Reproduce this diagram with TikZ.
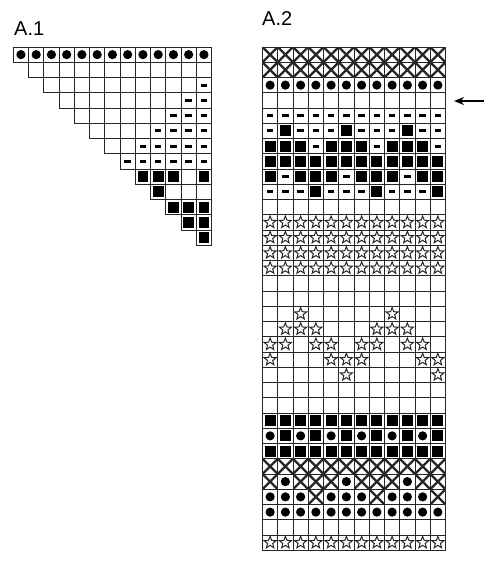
\documentclass[tikz,border=0pt]{standalone}
\usepackage{fontspec}
\setmainfont{Liberation Sans}
\usetikzlibrary{arrows.meta}

\tikzset{
	cell/.style={rectangle,draw=black!85,line width=1pt,minimum size=15.25pt,inner sep=0pt,outer sep=0pt},
	ke/.style={cell},
	kd/.style={cell,path picture={\fill (path picture bounding box.center) circle (4.6pt);}},
	km/.style={cell,path picture={\fill (path picture bounding box.center) ++(-3.3pt,-1.5pt) rectangle ++(6.6pt,3pt);}},
	ks/.style={cell,path picture={\fill (path picture bounding box.center) ++(-5.4pt,-5.4pt) rectangle ++(10.8pt,10.8pt);}},
	kx/.style={cell,path picture={
		\draw[line width=2.3pt] (path picture bounding box.north west) -- (path picture bounding box.south east)
			(path picture bounding box.north east) -- (path picture bounding box.south west);}},
	kt/.style={cell,path picture={
		\draw[shift={(path picture bounding box.center)},line width=1pt,line join=miter]
			(90:6.3pt) \foreach \k in {0,...,4}{-- (126+72*\k:2.7pt) -- (162+72*\k:6.3pt)} -- cycle;}},
	chartlabel/.style={anchor=base west,inner sep=0pt,font=\fontsize{20}{24}\selectfont}
}

\begin{document}
\begin{tikzpicture}[x=1pt,y=-1pt]
	\useasboundingbox (0,0) rectangle (500,574);

	\node[chartlabel] (a1label) at (14,35) {A.1};
	\node[chartlabel] (a2label) at (262,25) {A.2};

	% chart A.1, row r starts in column r
	\foreach \cells [count=\r] in {
		{d,d,d,d,d,d,d,d,d,d,d,d,d},
		{e,e,e,e,e,e,e,e,e,e,e,e},
		{e,e,e,e,e,e,e,e,e,e,m},
		{e,e,e,e,e,e,e,e,m,m},
		{e,e,e,e,e,e,m,m,m},
		{e,e,e,e,m,m,m,m},
		{e,e,m,m,m,m,m},
		{m,m,m,m,m,m},
		{s,s,s,e,s},
		{s,e,e,e},
		{s,s,s},
		{s,s},
		{s}}
	{
		\foreach \s [count=\c] in \cells
			\node[k\s] (a1-\r-\c) at ({13.3+(\c+\r-1.5)*15.25},{47+(\r-0.5)*15.25}) {};
	}

	% chart A.2
	\foreach \cells [count=\r] in {
		{x,x,x,x,x,x,x,x,x,x,x,x},
		{x,x,x,x,x,x,x,x,x,x,x,x},
		{d,d,d,d,d,d,d,d,d,d,d,d},
		{e,e,e,e,e,e,e,e,e,e,e,e},
		{m,m,m,m,m,m,m,m,m,m,m,m},
		{m,s,m,m,m,s,m,m,m,s,m,m},
		{s,s,s,m,s,s,s,m,s,s,s,m},
		{s,s,s,s,s,s,s,s,s,s,s,s},
		{s,m,s,s,s,m,s,s,s,m,s,s},
		{m,m,m,s,m,m,m,s,m,m,m,s},
		{e,e,e,e,e,e,e,e,e,e,e,e},
		{t,t,t,t,t,t,t,t,t,t,t,t},
		{t,t,t,t,t,t,t,t,t,t,t,t},
		{t,t,t,t,t,t,t,t,t,t,t,t},
		{t,t,t,t,t,t,t,t,t,t,t,t},
		{e,e,e,e,e,e,e,e,e,e,e,e},
		{e,e,e,e,e,e,e,e,e,e,e,e},
		{e,e,t,e,e,e,e,e,t,e,e,e},
		{e,t,t,t,e,e,e,t,t,t,e,e},
		{t,t,e,t,t,e,t,t,e,t,t,e},
		{t,e,e,e,t,t,t,e,e,e,t,t},
		{e,e,e,e,e,t,e,e,e,e,e,t},
		{e,e,e,e,e,e,e,e,e,e,e,e},
		{e,e,e,e,e,e,e,e,e,e,e,e},
		{s,s,s,s,s,s,s,s,s,s,s,s},
		{d,s,d,s,d,s,d,s,d,s,d,s},
		{s,s,s,s,s,s,s,s,s,s,s,s},
		{x,x,x,x,x,x,x,x,x,x,x,x},
		{x,d,x,x,x,d,x,x,x,d,x,x},
		{d,d,d,x,d,d,d,x,d,d,d,x},
		{d,d,d,d,d,d,d,d,d,d,d,d},
		{e,e,e,e,e,e,e,e,e,e,e,e},
		{t,t,t,t,t,t,t,t,t,t,t,t}}
	{
		\foreach \s [count=\c] in \cells
			\node[k\s] (a2-\r-\c) at ({262.5+(\c-0.5)*15.25},{47+(\r-0.5)*15.25}) {};
	}

	% arrow at row 4
	\coordinate (arrowtail) at (484,101);
	\coordinate (arrowhead) at (454,101);
	\draw[line width=2pt,-{Stealth[length=10pt,width=8pt]}] (arrowtail) -- (arrowhead);
\end{tikzpicture}
\end{document}
